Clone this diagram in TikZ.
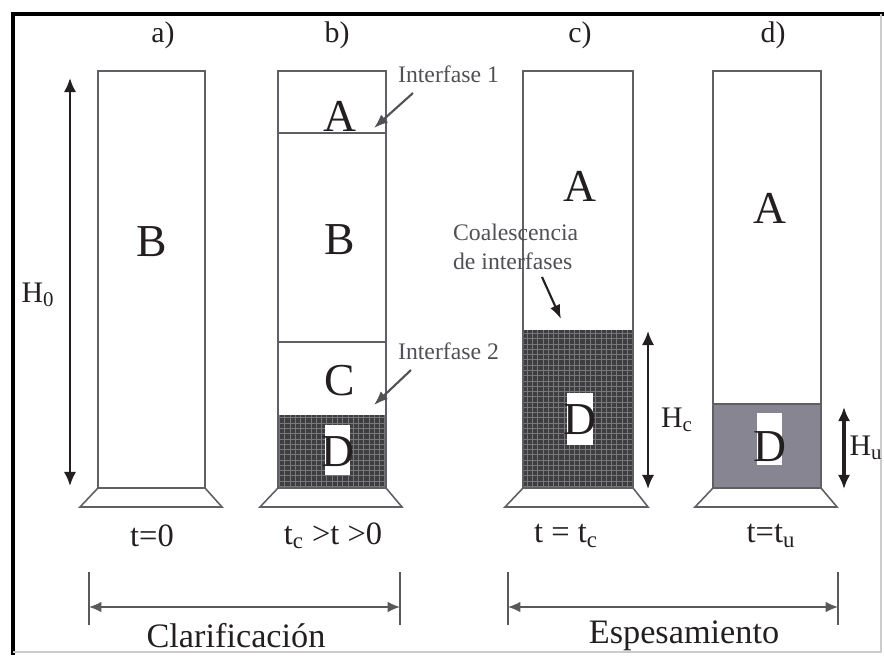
\documentclass[tikz,border=0pt]{standalone}
\usepackage{fontspec}
\setmainfont{Liberation Serif}
\usetikzlibrary{arrows.meta,patterns}
\definecolor{ink}{RGB}{35,31,32}
\definecolor{tubegray}{RGB}{95,95,100}
\definecolor{notegray}{RGB}{80,80,85}
\definecolor{seddark}{RGB}{62,62,64}
\definecolor{sedgrid}{RGB}{120,120,122}
\definecolor{sedlight}{RGB}{135,133,145}
\begin{document}
\begin{tikzpicture}[x=0.02cm,y=-0.02cm,
    every node/.style={text=ink,inner sep=1pt},
    tube/.style={draw=tubegray,line width=0.9pt},
    phase/.style={font=\fontsize{26}{28}\selectfont},
    caseno/.style={font=\fontsize{17}{19}\selectfont},
    tlabel/.style={font=\fontsize{18.5}{20}\selectfont},
    note/.style={text=notegray,anchor=west,align=left,font=\fontsize{13.5}{16.5}\selectfont},
    stage/.style={font=\fontsize{19.5}{22}\selectfont},
    dim/.style={ink,line width=1.3pt,{Latex[length=8pt,width=7pt]}-{Latex[length=8pt,width=7pt]}},
    pointer/.style={notegray,line width=1.2pt,-{Latex[length=8pt,width=6pt]}},
    bracket/.style={gray!70!black,line width=0.8pt,{Latex[length=7pt,width=6pt]}-{Latex[length=7pt,width=6pt]}}]
  \useasboundingbox (0,0) rectangle (884,655);
  % frame
  \draw[line width=2pt] (13,655) -- (13,14) -- (884,14);
  \draw[gray!40,line width=0.6pt] (881,14) -- (881,652) -- (13,652);
  % case titles
  \node[caseno] (ta) at (163,35) {a)};
  \node[caseno] (tb) at (337,35) {b)};
  \node[caseno] (tc) at (580,35) {c)};
  \node[caseno] (td) at (773,35) {d)};
  % a) t = 0
  \draw[tube] (98,71) rectangle (205,488);
  \draw[tube] (98,488) -- (80,507) -- (222,507) -- (205,488);
  \node[phase] (aB) at (152,242) {B};
  \coordinate (h0top) at (70,78);
  \coordinate (h0bot) at (70,486);
  \draw[dim] (h0top) -- (h0bot);
  \node[font=\fontsize{17}{19}\selectfont] (h0) at (38,295) {H\textsubscript{0}};
  \node[tlabel] (ta0) at (152,536) {t=0};
  % b) tc > t > 0
  \fill[seddark] (278,415) rectangle (386,488);
  \fill[pattern=grid,pattern color=sedgrid] (278,415) rectangle (386,488);
  \draw[tube] (278,71) rectangle (386,488);
  \draw[tube] (278,133) -- (386,133);
  \draw[tube] (278,342) -- (386,342);
  \draw[tube] (278,488) -- (260,507) -- (402,507) -- (386,488);
  \fill[white] (325,425) rectangle (350,475);
  \node[phase] (bA) at (340,116) {A};
  \node[phase] (bB) at (340,240) {B};
  \node[phase] (bC) at (340,381) {C};
  \node[phase] (bD) at (338,452) {D};
  \node[note] (if1) at (396,74) {Interfase 1};
  \coordinate (if1tip) at (374,128);
  \draw[pointer] (413,93) -- (if1tip);
  \node[note] (if2) at (396,351) {Interfase 2};
  \coordinate (if2tip) at (374,405);
  \draw[pointer] (411,370) -- (if2tip);
  \node[tlabel] (tbt) at (333,536) {t\textsubscript{c} >t >0};
  % c) t = tc
  \fill[seddark] (523,330) rectangle (633,488);
  \fill[pattern=grid,pattern color=sedgrid] (523,330) rectangle (633,488);
  \draw[tube] (523,71) rectangle (633,488);
  \draw[tube] (523,488) -- (505,507) -- (648,507) -- (633,488);
  \fill[white] (567,393) rectangle (593,445);
  \node[phase] (cA) at (580,186) {A};
  \node[phase] (cD) at (580,420) {D};
  \node[note] (coal) at (451,247) {Coalescencia\\de interfases};
  \coordinate (coaltip) at (561,319);
  \draw[pointer,ink] (542,277) -- (coaltip);
  \coordinate (hctop) at (648,331);
  \coordinate (hcbot) at (648,489);
  \draw[dim] (hctop) -- (hcbot);
  \node[font=\fontsize{17}{19}\selectfont] (hc) at (677,420) {H\textsubscript{c}};
  \node[tlabel] (tct) at (566,536) {t = t\textsubscript{c}};
  % d) t = tu
  \fill[sedlight] (713,404) rectangle (821,488);
  \draw[tube] (713,71) rectangle (821,488);
  \draw[tube] (713,404) -- (821,404);
  \draw[tube] (713,488) -- (695,507) -- (837,507) -- (821,488);
  \fill[white] (757,413) rectangle (782,465);
  \node[phase] (dA) at (770,208) {A};
  \node[phase] (dD) at (770,447) {D};
  \coordinate (hutop) at (844,407);
  \coordinate (hubot) at (844,489);
  \draw[dim,line width=2.2pt] (hutop) -- (hubot);
  \node[font=\fontsize{17}{19}\selectfont] (hu) at (866,448) {H\textsubscript{u}};
  \node[tlabel] (tdt) at (771,536) {t=t\textsubscript{u}};
  % stages
  \coordinate (clL) at (89,607);
  \coordinate (clR) at (400,607);
  \draw[gray!70!black,line width=0.8pt] (89,572) -- (89,625) (400,572) -- (400,625);
  \draw[bracket] (clL) -- (clR);
  \node[stage] (clar) at (236,636) {Clarificación};
  \coordinate (esL) at (508,607);
  \coordinate (esR) at (838,607);
  \draw[gray!70!black,line width=0.8pt] (508,572) -- (508,625) (838,572) -- (838,625);
  \draw[bracket] (esL) -- (esR);
  \node[stage] (espe) at (684,636) {Espesamiento};
\end{tikzpicture}
\end{document}
